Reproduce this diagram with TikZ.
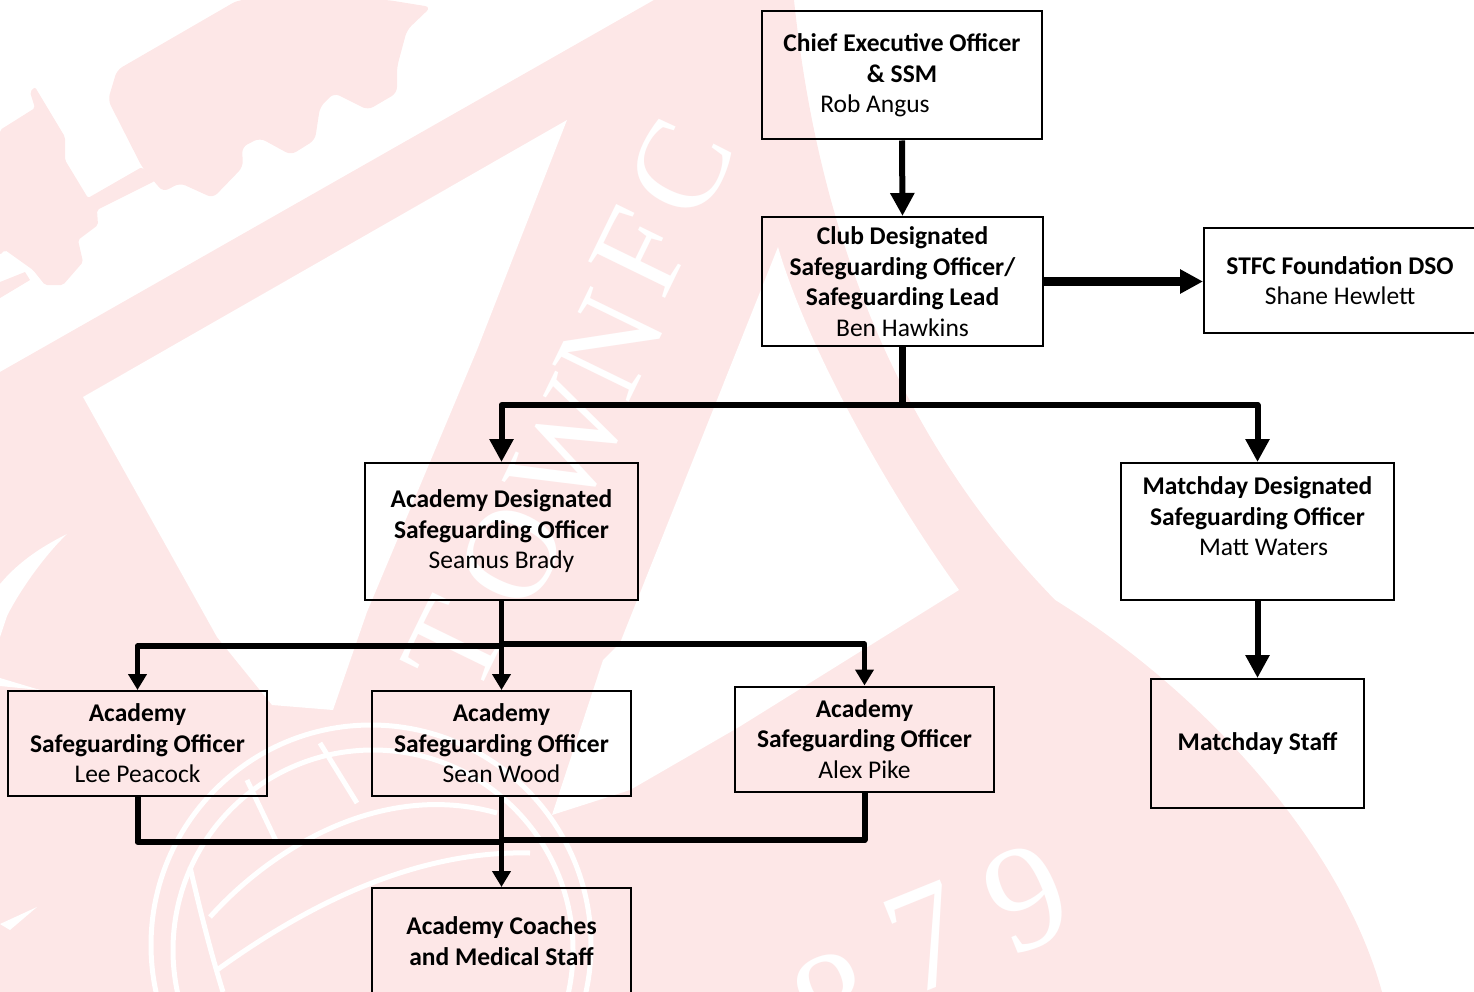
\documentclass[tikz,border=0pt]{standalone}
\usepackage{fontspec}
\setmainfont{Carlito}
\newfontfamily\crestfont{Liberation Serif}
\usetikzlibrary{arrows.meta}

\definecolor{crestpink}{HTML}{FDE7E7}

\tikzset{
	box/.style={draw=black, line width=2pt, inner sep=0pt, align=center, font=\fontsize{25.5}{30.5}\selectfont},
	link/.style={black, line width=6pt, line join=round},
	bigtip/.style={link, -{Triangle[width=23pt,length=23pt]}},
	smalltip/.style={link, line width=5.5pt, -{Triangle[width=18pt,length=16pt]}},
	crestline/.style={white, line width=5pt},
	crestletter/.style={white, inner sep=0pt, font=\crestfont\fontsize{130}{130}\selectfont},
	crestdigit/.style={white, inner sep=0pt, font=\crestfont\fontsize{150}{150}\selectfont}
}

\begin{document}
\begin{tikzpicture}[x=1pt,y=-1pt]
	
	\useasboundingbox (0,0) rectangle (1474,992);
	
	% crest behind the chart
	\fill[crestpink] (0,372) -- (654,0) -- (794,0) .. controls (815,200) and (880,420) .. (1055,600) .. controls (1200,690) and (1340,840) .. (1382,992) -- (0,992) -- cycle;
	\fill[white] (567,120) -- (477,350) -- (367,612) -- (333,710) -- (272,705) -- (217,637) -- (83,397) -- cycle;
	\fill[white] (778,247) .. controls (805,340) and (880,480) .. (959,590) -- (739,727) -- (630,790) -- (552,815) -- (603,660) -- (620,643) -- cycle;
	
	% train
	\fill[crestpink, rounded corners=6pt] (117,70) -- (238,0) -- (388,0) -- (431,7) -- (407,30) -- (397,67) -- (397,93) -- (368,110) -- (334,93) -- (320,107) -- (315,140) -- (291,155) -- (260,138) -- (242,147) -- (243,167) -- (213,198) -- (180,183) -- (163,192) -- (142,167) -- (108,100) -- cycle;
	\fill[crestpink, rounded corners=2pt] (0,130) -- (35,108) -- (30,92) -- (35,87) -- (65,137) -- (65,160) -- (88,198) -- (142,167) -- (155,181) -- (97,210) -- (98,225) -- (78,240) -- (83,262) -- (63,285) -- (45,285) -- (33,270) -- (5,250) -- (0,255) -- cycle;
	\fill[crestpink] (0,282) -- (25,272) -- (30,280) -- (0,298) -- cycle;
	
	% letters on the crest
	\foreach \letter/\cx/\cy in {T/455/645, O/512/555, W/568/445, N/610/345, F/641/251, C/680/168}
		\node[crestletter, rotate=64] (crest\letter) at (\cx,\cy) {\letter};
	\foreach \digit/\cx/\cy in {8/836/1005, 7/928/938, 9/1027/898}
		\node[crestdigit, rotate=22] (crest\digit) at (\cx,\cy) {\digit};
	
	% ball
	\draw[crestline] (371,945) circle (220pt);
	\draw[crestline] (373,950) circle (200pt);
	\draw[crestline] (320,743) -- (357,803);
	\draw[crestline] (247,780) -- (277,843);
	\draw[crestline] (210,917) .. controls (270,850) and (380,780) .. (497,813);
	\draw[crestline] (217,970) .. controls (300,910) and (410,850) .. (530,853);
	\draw[crestline] (190,867) .. controls (200,910) and (210,950) .. (223,992);
	\fill[white] (0,584) .. controls (20,560) and (45,545) .. (67,534) .. controls (45,555) and (20,590) .. (7,616) -- (0,637) -- cycle;
	\fill[white] (0,678) -- (40,690) -- (0,686) -- cycle;
	\fill[white] (0,924) -- (37,907) -- (10,930) -- cycle;
	
	% boxes
	\node[box, minimum width=280pt, minimum height=128pt] (ceo) at (902,75.5) {\textbf{Chief Executive Officer}\\\textbf{\& SSM}\\\hspace*{-54pt}Rob Angus};
	\node[box, minimum width=281pt, minimum height=129pt] (club) at (902.5,281.5) {\textbf{Club Designated}\\\textbf{Safeguarding Officer/}\\\textbf{Safeguarding Lead}\\Ben Hawkins};
	\node[box, minimum width=272pt, minimum height=105pt] (stfc) at (1340,280.5) {\textbf{STFC Foundation DSO}\\Shane Hewlett};
	\node[box, minimum width=273pt, minimum height=137pt] (acad) at (501.5,531.5) {\textbf{Academy Designated}\\\textbf{Safeguarding Officer}\\Seamus Brady};
	\node[box, minimum width=273pt, minimum height=137pt] (match) at (1257.5,531.5) {\textbf{Matchday Designated}\\\textbf{Safeguarding Officer}\\\hspace*{12pt}Matt Waters\\~};
	\node[box, minimum width=259pt, minimum height=105pt] (lee) at (137.5,743.5) {\textbf{Academy}\\\textbf{Safeguarding Officer}\\Lee Peacock};
	\node[box, minimum width=259pt, minimum height=105pt] (sean) at (501.5,743.5) {\textbf{Academy}\\\textbf{Safeguarding Officer}\\Sean Wood};
	\node[box, minimum width=259pt, minimum height=105pt] (alex) at (864.5,739) {\textbf{Academy}\\\textbf{Safeguarding Officer}\\Alex Pike};
	\node[box, minimum width=259pt, minimum height=106pt] (coaches) at (501.5,941) {\textbf{Academy Coaches}\\\textbf{and Medical Staff}};
	\node[box, minimum width=213pt, minimum height=129pt] (staff) at (1257.5,743.5) {\textbf{Matchday Staff}};
	
	% free ends of the bars
	\coordinate (clubjoin) at (902.5,405);
	\coordinate (acadjoinl) at (501.5,646);
	\coordinate (acadjoinr) at (501.5,644);
	\coordinate (coachjoinl) at (501.5,842);
	\coordinate (coachjoinr) at (501.5,840);
	
	% connectors
	\draw[bigtip] (ceo.south) -- (club.north);
	\draw[bigtip, line width=9pt] (club.east) -- (club.east -| stfc.west);
	\draw[link, line width=7pt] (club.south) -- (clubjoin);
	\draw[bigtip] (clubjoin) -| (acad.north);
	\draw[bigtip] (clubjoin) -| (match.north);
	\draw[bigtip] (match.south) -- (staff.north);
	\draw[smalltip] (acad.south) -- (sean.north);
	\draw[smalltip] (acadjoinl) -| (lee.north);
	\draw[smalltip] (acadjoinr) -| (alex.north);
	\draw[link] (lee.south) |- (coachjoinl);
	\draw[link] (alex.south) |- (coachjoinr);
	\draw[smalltip] (sean.south) -- (coaches.north);
	
\end{tikzpicture}
\end{document}
